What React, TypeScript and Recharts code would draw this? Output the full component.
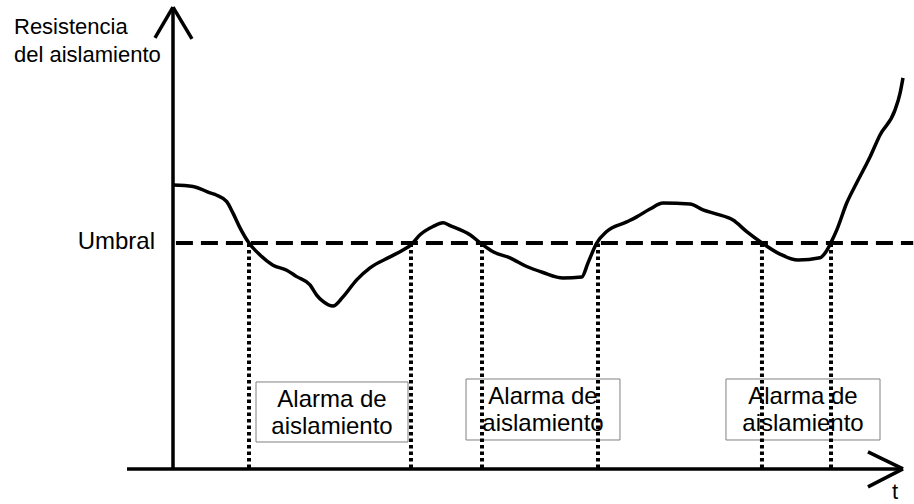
import { LineChart, Line, XAxis, YAxis, ReferenceLine, ReferenceArea } from 'recharts';

// time (0-100) and insulation resistance (0-100)
const TIME = [
  0, 2.74, 5.07, 5.99, 7.36, 8.22, 9.18, 10.41, 11.92, 13.7, 15.58, 16.95, 18.77, 19.68, 20.55, 21.92,
  23.29, 25.16, 26.99, 29.73, 31.51, 32.6, 33.84, 35.62, 36.99, 37.95, 40.68, 42.29, 43.84, 46.16, 48.45,
  50.68, 53.42, 55.99, 56.85, 58.04, 59.41, 62.15, 63.52, 65.34, 67.12, 70.82, 72.6, 74.48, 76.71, 78.59,
  80.64, 83.15, 85.62, 88.63, 89.45, 90.16, 90.92, 92.29, 93.66, 95.48, 96.85, 98.9, 99.6, 100,
];
const RESISTANCE = [
  61.5, 61.2, 59.8, 59.3, 57.9, 55.4, 52.2, 48.9, 46.3, 44.1, 43.0, 41.6, 39.8, 37.6, 36.2, 35.2,
  37.2, 40.9, 43.5, 45.9, 47.4, 48.5, 50.7, 52.5, 53.3, 52.7, 50.7, 48.7, 47.0, 45.7, 43.8,
  42.5, 41.3, 41.5, 44.6, 48.9, 51.4, 53.5, 54.6, 56.3, 57.6, 57.4, 56.1, 55.2, 53.9, 51.4,
  49.0, 46.5, 45.2, 45.7, 47.0, 49.1, 51.7, 57.6, 62.0, 67.6, 72.4, 77.8, 81.5, 84.8,
];

const UMBRAL = 48.9;
const CROSSINGS = [10.41, 32.6, 42.33, 58.22, 80.68, 90.14];
const ALARM_LINES = ['Alarma de', 'aislamiento'];

const data = TIME.map((t, i) => ({ t, r: RESISTANCE[i] }));

document.body.style.margin = '0';

const FONT = '"Liberation Sans", Arial, sans-serif';

const boxes = [
  { x1: 11.37, x2: 32.19, y1: 5.65, y2: 18.7 },
  { x1: 40.14, x2: 61.23, y1: 6.09, y2: 19.35 },
  { x1: 75.75, x2: 96.85, y1: 6.09, y2: 19.35 },
];

function BoxLabel(props: any) {
  const vb = props.viewBox ?? {};
  const cx = vb.x + vb.width / 2;
  return (
    <g>
      {ALARM_LINES.map((s, i) => (
        <text key={s} x={cx} y={vb.y + 25 + i * 27} textAnchor="middle" fontSize={24} fontFamily={FONT} fill="#000">
          {s}
        </text>
      ))}
    </g>
  );
}

const axisStyle = { stroke: '#000', strokeWidth: 3.5, ifOverflow: 'visible' as const };

export default function App() {
  return (
    <LineChart width={914} height={504} data={data} margin={{ top: 8, right: 11, bottom: 36, left: 173 }}>
      <XAxis dataKey="t" type="number" domain={[0, 100]} hide />
      <YAxis type="number" domain={[0, 100]} hide />

      {/* threshold */}
      <ReferenceLine
        segment={[{ x: 0.4, y: UMBRAL }, { x: 101.4, y: UMBRAL }]}
        stroke="#000"
        strokeWidth={4}
        strokeDasharray="17 8"
        ifOverflow="visible"
      />
      {CROSSINGS.map((c) => (
        <ReferenceLine
          key={c}
          segment={[{ x: c, y: 0 }, { x: c, y: UMBRAL }]}
          stroke="#000"
          strokeWidth={4}
          strokeDasharray="3.5 3"
          ifOverflow="visible"
        />
      ))}

      {boxes.map((b, i) => (
        <ReferenceArea
          key={i}
          x1={b.x1}
          x2={b.x2}
          y1={b.y1}
          y2={b.y2}
          fill="#fff"
          fillOpacity={1}
          stroke="#808080"
          strokeWidth={1}
          ifOverflow="visible"
          label={(p: any) => <BoxLabel {...p} />}
        />
      ))}

      {/* axes with arrow heads */}
      <ReferenceLine segment={[{ x: -6.3, y: -0.2 }, { x: 100, y: -0.2 }]} {...axisStyle} />
      <ReferenceLine segment={[{ x: 95.2, y: 3.5 }, { x: 100, y: -0.2 }]} {...axisStyle} />
      <ReferenceLine segment={[{ x: 95.2, y: -4.1 }, { x: 100, y: -0.2 }]} {...axisStyle} />
      <ReferenceLine segment={[{ x: 0, y: -0.2 }, { x: 0, y: 100.2 }]} {...axisStyle} />
      <ReferenceLine segment={[{ x: -2.47, y: 93.5 }, { x: 0, y: 100.2 }]} {...axisStyle} />
      <ReferenceLine segment={[{ x: 2.6, y: 93.3 }, { x: 0, y: 100.2 }]} {...axisStyle} />

      <Line
        type="monotone"
        dataKey="r"
        stroke="#000"
        strokeWidth={3.5}
        dot={false}
        isAnimationActive={false}
      />

      <text x={14} y={34} fontSize={22} fontFamily={FONT} fill="#000">Resistencia</text>
      <text x={14} y={61.5} fontSize={22} fontFamily={FONT} fill="#000">del aislamiento</text>
      <text x={155} y={249} textAnchor="end" fontSize={24} fontFamily={FONT} fill="#000">Umbral</text>
      <text x={892} y={499} fontSize={22} fontFamily={FONT} fill="#000">t</text>
    </LineChart>
  );
}
